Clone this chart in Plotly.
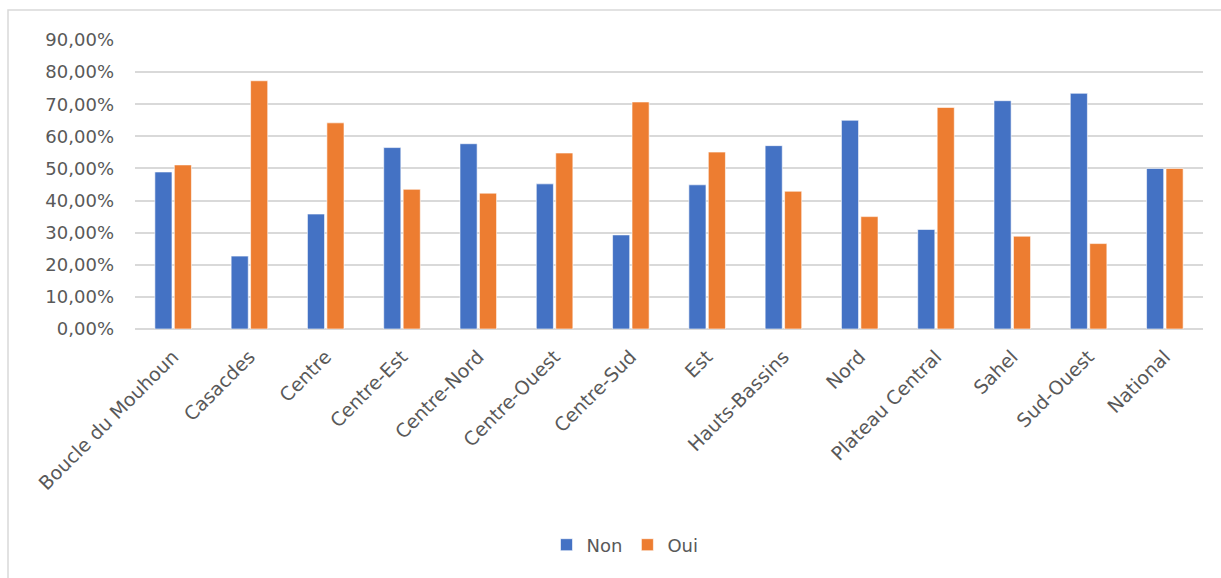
import plotly.graph_objects as go

# Régions et part des réponses (en proportion)
regions = [
    "Boucle du Mouhoun", "Casacdes", "Centre", "Centre-Est", "Centre-Nord",
    "Centre-Ouest", "Centre-Sud", "Est", "Hauts-Bassins", "Nord",
    "Plateau Central", "Sahel", "Sud-Ouest", "National",
]
non = [0.489, 0.227, 0.358, 0.565, 0.577, 0.452, 0.293, 0.449, 0.571, 0.650,
       0.310, 0.711, 0.734, 0.500]
oui = [0.511, 0.773, 0.642, 0.435, 0.423, 0.548, 0.707, 0.551, 0.429, 0.350,
       0.690, 0.289, 0.266, 0.500]
y_ticks = [0, 0.1, 0.2, 0.3, 0.4, 0.5, 0.6, 0.7, 0.8, 0.9]

BLUE = "#4472C4"
ORANGE = "#ED7D31"
GRID = "#D9D9D9"
TEXT = "#595959"
FONT = "DejaVu Sans"

W, H = 1221, 578
L, R, T, B = 135, 18, 40, 249
pw, ph = W - L - R, H - T - B

fig = go.Figure()
fig.add_trace(go.Bar(name="Non", x=regions, y=non,
                     marker=dict(color=BLUE, line=dict(color="white", width=0.6))))
fig.add_trace(go.Bar(name="Oui", x=regions, y=oui,
                     marker=dict(color=ORANGE, line=dict(color="white", width=0.6))))


def px_x(x):
    return (x - L) / pw


def px_y(y):
    return (H - B - y) / ph


fig.update_layout(
    width=W, height=H,
    margin=dict(l=L, r=R, t=T, b=B, autoexpand=False),
    paper_bgcolor="white", plot_bgcolor="white",
    barmode="group", bargap=0.49, bargroupgap=0.12,
    separators=", ",
    font=dict(family=FONT, size=18, color=TEXT),
    showlegend=True,
    legend=dict(
        orientation="h", x=px_x(625), xanchor="center", y=px_y(545), yanchor="middle",
        font=dict(family=FONT, size=18, color=TEXT), itemwidth=30, traceorder="normal",
    ),
    xaxis=dict(
        tickangle=-45, showgrid=False, zeroline=False, showline=False,
        ticklabelstandoff=12,
        tickfont=dict(family=FONT, size=19, color=TEXT),
    ),
    yaxis=dict(
        range=[0, 0.9], tickvals=y_ticks, tickformat=".2%",
        showgrid=True, gridcolor=GRID, gridwidth=1.5,
        zeroline=True, zerolinecolor=GRID, zerolinewidth=1.5,
        showline=False, ticklabelstandoff=20,
        tickfont=dict(family=FONT, size=18, color=TEXT),
    ),
    shapes=[
        dict(
            type="rect", xref="paper", yref="paper",
            x0=px_x(8), x1=px_x(W + 20), y0=px_y(H + 20), y1=px_y(10),
            line=dict(color=GRID, width=1.5), fillcolor="rgba(0,0,0,0)", layer="below",
        )
    ],
)

fig.write_html("out.html")
